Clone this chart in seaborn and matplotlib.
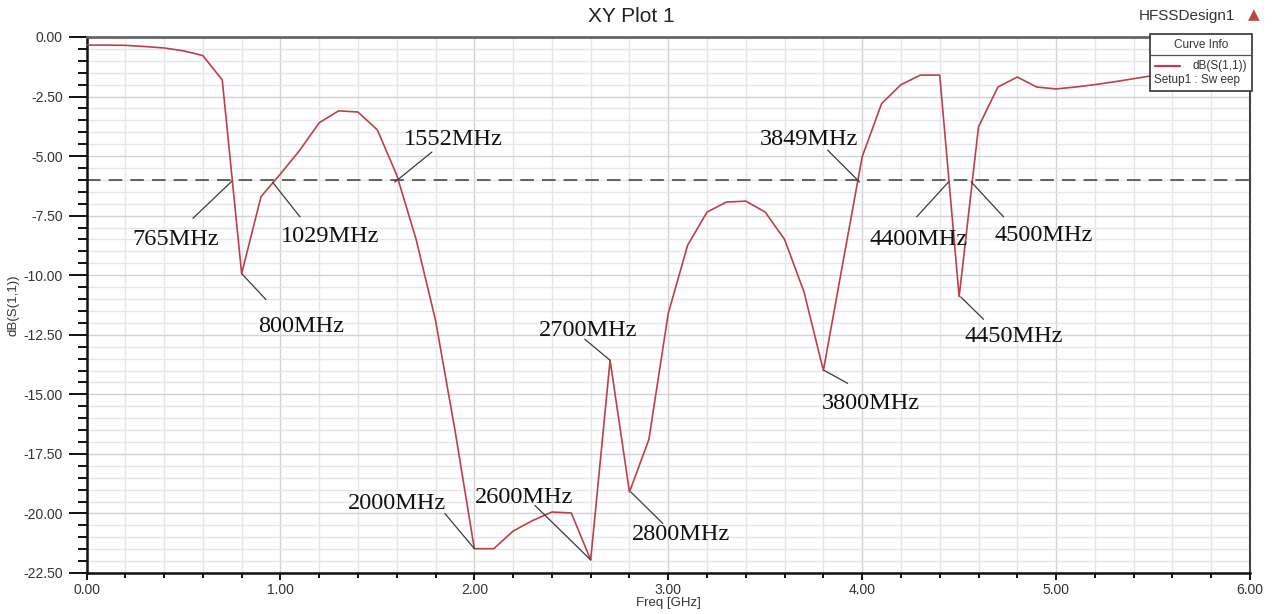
import numpy as np
import pandas as pd
import matplotlib
matplotlib.use("Agg")
import matplotlib.pyplot as plt
import seaborn as sns
from matplotlib.ticker import MultipleLocator, FormatStrFormatter
from matplotlib.patches import Rectangle
from matplotlib.lines import Line2D

# ---- data ----
freq_ghz = [0.0, 0.1, 0.2, 0.3, 0.4, 0.5, 0.6, 0.7, 0.8, 0.9,
            1.0, 1.1, 1.2, 1.3, 1.4, 1.5, 1.6, 1.7, 1.8, 1.9,
            2.0, 2.1, 2.2, 2.3, 2.4, 2.5, 2.6, 2.7, 2.8, 2.9,
            3.0, 3.1, 3.2, 3.3, 3.4, 3.5, 3.6, 3.7, 3.8, 3.9,
            4.0, 4.1, 4.2, 4.3, 4.4, 4.5, 4.6, 4.7, 4.8, 4.9,
            5.0, 5.1, 5.2, 5.3, 5.4, 5.5, 5.6, 5.7, 5.8, 5.9, 6.0]
s11_db = [-0.34, -0.34, -0.35, -0.40, -0.46, -0.58, -0.78, -1.80, -9.93, -6.70,
          -5.75, -4.75, -3.60, -3.10, -3.15, -3.90, -5.80, -8.50, -11.90, -16.50,
          -21.48, -21.48, -20.74, -20.30, -19.94, -19.98, -21.95, -13.57, -19.10, -16.90,
          -11.60, -8.74, -7.35, -6.93, -6.89, -7.35, -8.50, -10.70, -14.00, -9.50,
          -5.03, -2.80, -2.00, -1.60, -1.60, -10.90, -3.77, -2.10, -1.68, -2.10,
          -2.18, -2.10, -2.00, -1.88, -1.75, -1.62, -1.55, -1.50, -1.45, -1.42, -1.40]
ref_level = -6.0

ann_labels = ["765MHz", "1029MHz", "800MHz", "1552MHz", "2000MHz", "2600MHz",
              "2800MHz", "2700MHz", "3849MHz", "3800MHz", "4400MHz", "4500MHz", "4450MHz"]
ann_x = [0.750, 0.960, 0.800, 1.590, 2.000, 2.600, 2.807, 2.700, 3.987, 3.803, 4.446, 4.562, 4.508]
ann_y = [-6.05, -6.10, -9.93, -6.09, -21.48, -21.95, -19.10, -13.57, -6.09, -13.99, -6.08, -6.08, -10.91]
lead_x = [0.549, 1.101, 0.925, 1.781, 1.848, 2.312, 2.972, 2.570, 3.822, 3.925, 4.281, 4.729, 4.626]
lead_y = [-7.61, -7.55, -11.02, -4.83, -20.00, -19.66, -20.42, -12.69, -4.75, -14.54, -7.55, -7.55, -11.85]
text_x = [0.461, 1.255, 1.106, 1.889, 1.600, 2.255, 3.064, 2.585, 3.724, 4.044, 4.291, 4.935, 4.781]
text_y = [-8.49, -8.36, -12.14, -4.29, -19.58, -19.33, -20.88, -12.31, -4.29, -15.38, -8.49, -8.32, -12.56]

x_ticks = [0, 1, 2, 3, 4, 5, 6]
y_ticks = [0, -2.5, -5, -7.5, -10, -12.5, -15, -17.5, -20, -22.5]

df = pd.DataFrame({"Freq [GHz]": freq_ghz, "dB(S(1,1))": s11_db})

sns.set_theme(style="white")
plt.rcParams['font.family'] = ['Liberation Sans', 'DejaVu Sans']

W, H = 1274, 614
fig = plt.figure(figsize=(W / 100, H / 100), dpi=100)
ax = fig.add_axes([86.5 / W, 1 - 573 / H, (1250 - 86.5) / W, (573 - 37) / H])

ax.set_xlim(0, 6)
ax.set_ylim(-22.5, 0)
ax.set_xticks(x_ticks)
ax.set_yticks(y_ticks)
ax.xaxis.set_minor_locator(MultipleLocator(0.2))
ax.yaxis.set_minor_locator(MultipleLocator(0.5))
ax.xaxis.set_major_formatter(FormatStrFormatter('%.2f'))
ax.yaxis.set_major_formatter(FormatStrFormatter('%.2f'))

ax.grid(which='major', color='#d2d2d2', lw=1.0)
ax.grid(which='minor', color='#e6e6e6', lw=1.0)
ax.set_axisbelow(True)

sns.lineplot(data=df, x="Freq [GHz]", y="dB(S(1,1))", ax=ax, sort=False,
             estimator=None, color='#b9424a', lw=1.2, zorder=3)
ax.axhline(ref_level, color='#555555', lw=1.3, dashes=(7.5, 4.5), zorder=2)

for lab, px, py, lx, ly, tx, ty in zip(ann_labels, ann_x, ann_y, lead_x, lead_y, text_x, text_y):
    ax.plot([px, lx], [py, ly], color='#3a3a3a', lw=0.9, zorder=4)
    ax.text(tx, ty, lab, ha='center', va='center', fontsize=17.5,
            family=['Liberation Serif', 'DejaVu Serif'], color='#111111', zorder=5)

for side in ['left', 'bottom']:
    ax.spines[side].set_color('#111111')
    ax.spines[side].set_linewidth(1.8)
ax.spines['top'].set_color('#666666')
ax.spines['top'].set_linewidth(2.0)
ax.spines['right'].set_color('#444444')
ax.spines['right'].set_linewidth(1.5)

ax.tick_params(axis='y', which='major', direction='out', length=13, width=1.4,
               color='#111111', labelsize=10, labelcolor='#333333', pad=4, left=True)
ax.tick_params(axis='y', which='minor', direction='out', length=6.5, width=1.4,
               color='#111111', left=True)
ax.tick_params(axis='x', which='major', direction='out', length=5, width=1.4,
               color='#111111', labelsize=10, labelcolor='#333333', pad=2.5, bottom=True)
ax.tick_params(axis='x', which='minor', direction='out', length=3.5, width=1.4,
               color='#111111', bottom=True)

ax.set_xlabel("Freq [GHz]", fontsize=9.5, color='#333333', labelpad=0)
ax.set_ylabel("dB(S(1,1))", fontsize=9.5, color='#333333', labelpad=3)

# title and header
fig.text(631 / W, 1 - 17 / H, "XY Plot 1", ha='center', va='center', fontsize=15, color='#222222')
fig.text(1187 / W, 1 - 16 / H, "HFSSDesign1", ha='center', va='center', fontsize=11, color='#333333')
fig.text(1254 / W, 1 - 15 / H, "▲", ha='center', va='center', fontsize=11,
         color='#b84a3e', family=['DejaVu Sans'])

# curve info box
bx0, by0, bx1, by1 = 1150, 34, 1252, 91
fig.patches.append(Rectangle((bx0 / W, 1 - by1 / H), (bx1 - bx0) / W, (by1 - by0) / H,
                             transform=fig.transFigure, facecolor='white',
                             edgecolor='#333333', lw=1.2, zorder=10))
fig.lines.append(Line2D([bx0 / W, bx1 / W], [1 - 55 / H, 1 - 55 / H],
                        transform=fig.transFigure, color='#555555', lw=0.9, zorder=11))
fig.lines.append(Line2D([1155 / W, 1180 / W], [1 - 66 / H, 1 - 66 / H],
                        transform=fig.transFigure, color='#b9424a', lw=1.6, zorder=11))
fig.text(1201 / W, 1 - 45 / H, "Curve Info", ha='center', va='center', fontsize=8.5,
         color='#333333', zorder=12)
fig.text(1247 / W, 1 - 66 / H, "dB(S(1,1))", ha='right', va='center', fontsize=8.5,
         color='#333333', zorder=12)
fig.text(1154 / W, 1 - 80 / H, "Setup1 : Sw eep", ha='left', va='center', fontsize=8.5,
         color='#333333', zorder=12)

fig.savefig("out.png", dpi=100, facecolor='white')
